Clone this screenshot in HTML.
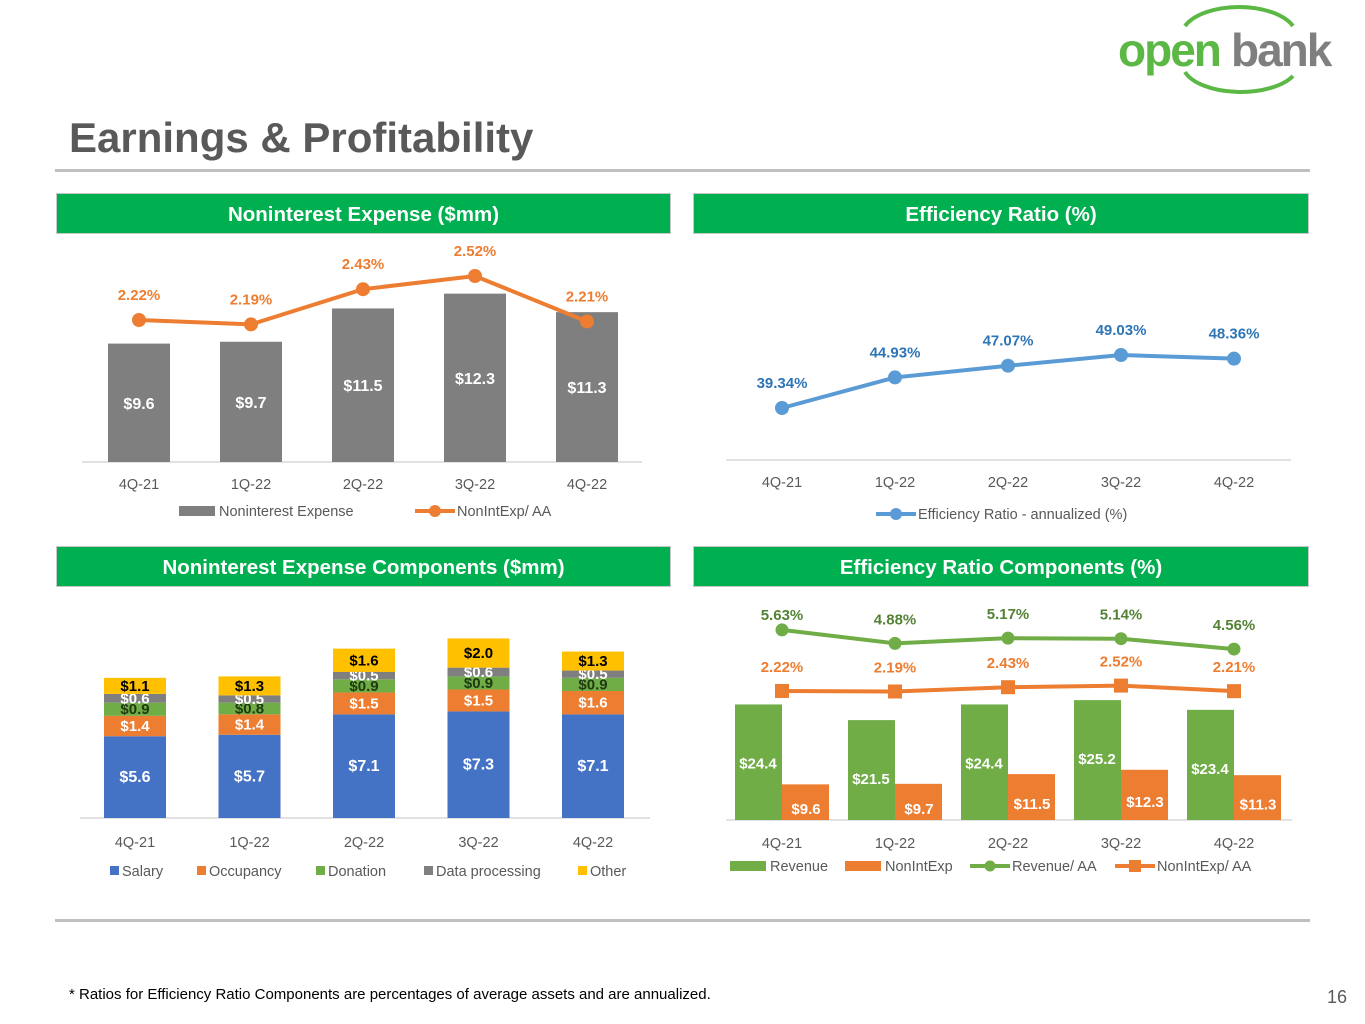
<!DOCTYPE html>
<html><head><meta charset="utf-8">
<style>
body{margin:0;background:#fff;font-family:"Liberation Sans",sans-serif;}
#page{position:relative;width:1365px;height:1024px;overflow:hidden;background:#fff;}
.hdr{position:absolute;height:41px;background:#00b050;border:1px solid #c8c8c8;color:#fff;font-weight:bold;font-size:20.5px;text-align:center;line-height:41px;box-sizing:border-box;}
svg text{font-family:"Liberation Sans",sans-serif;}
</style></head><body>
<div id="page">
<div style="position:absolute;left:1115px;top:4px;width:250px;height:95px;">
<svg width="250" height="95">
<path d="M70 22 A58 30 0 0 1 178 22" fill="none" stroke="#5cb845" stroke-width="4"/>
<path d="M70 68 A58 28 0 0 0 178 72" fill="none" stroke="#5cb845" stroke-width="4"/>
<text x="3" y="62" font-size="46" font-weight="bold" fill="#5cb845" letter-spacing="-2">open</text>
<text x="116" y="62" font-size="46" font-weight="bold" fill="#7f7f7f" letter-spacing="-2">bank</text>
</svg></div>
<div style="position:absolute;left:69px;top:114px;font-size:42px;font-weight:bold;color:#595959;">Earnings &amp; Profitability</div>
<div style="position:absolute;left:55px;top:169px;width:1255px;height:3px;background:#bfbfbf;"></div>
<div class="hdr" style="left:56px;top:193px;width:615px;">Noninterest Expense ($mm)</div>
<div class="hdr" style="left:693px;top:193px;width:616px;">Efficiency Ratio (%)</div>
<div class="hdr" style="left:56px;top:546px;width:615px;">Noninterest Expense Components ($mm)</div>
<div class="hdr" style="left:693px;top:546px;width:616px;">Efficiency Ratio Components (%)</div>
<div style="position:absolute;left:55px;top:919px;width:1255px;height:3px;background:#bfbfbf;"></div>
<div style="position:absolute;left:69px;top:986px;font-size:15px;color:#000;">* Ratios for Efficiency Ratio Components are percentages of average assets and are annualized.</div>
<div style="position:absolute;left:1327px;top:987px;font-size:18px;color:#595959;">16</div>
<svg id="charts" width="1365" height="1024" style="position:absolute;left:0;top:0;"></svg>
</div>
<script>
const categories=["4Q-21","1Q-22","2Q-22","3Q-22","4Q-22"];
const nieValues=[9.6,9.7,11.5,12.3,11.3];
const nieRatio=[2.22,2.19,2.43,2.52,2.21];
const effRatio=[39.34,44.93,47.07,49.03,48.36];
const salary=[5.6,5.7,7.1,7.3,7.1];
const occupancy=[1.4,1.4,1.5,1.5,1.6];
const donation=[0.9,0.8,0.9,0.9,0.9];
const dataProc=[0.6,0.5,0.5,0.6,0.5];
const other=[1.1,1.3,1.6,2.0,1.3];
const revenue=[24.4,21.5,24.4,25.2,23.4];
const revenueRatio=[5.63,4.88,5.17,5.14,4.56];

const S=document.getElementById('charts');
const NS='http://www.w3.org/2000/svg';
function mk(tag,attrs,name,txt){const e=document.createElementNS(NS,tag);for(const k in attrs)e.setAttribute(k,attrs[k]);


if(txt!==undefined)e.textContent=txt;S.appendChild(e);return e;}
function txt(x,y,s,opt,name){return mk('text',Object.assign({x:x,y:y,'text-anchor':'middle','font-size':14.5,fill:'#595959'},opt||{}),name,s);}
function fmt$(v){return '$'+v.toFixed(1);}
function fmtP(v,d){return v.toFixed(d)+'%';}

// Chart 1
const c1x=i=>139+i*112, c1y=v=>462-(v-3.2)*18.5, c1r=v=>320-(v-2.22)*146.7;
mk('line',{x1:82,x2:642,y1:462,y2:462,stroke:'#d9d9d9','stroke-width':1.5},'x-axis-1');
nieValues.forEach((v,i)=>{const t=c1y(v);
mk('rect',{x:c1x(i)-31,y:t,width:62,height:462-t,fill:'#7f7f7f'},'nie-bar-'+i);
txt(c1x(i),(t+462)/2+6,fmt$(v),{fill:'#fff','font-weight':'bold','font-size':16},'nie-bar-label-'+i);
txt(c1x(i),489,categories[i],{},'x-tick-1-'+i);});
mk('polyline',{points:nieRatio.map((v,i)=>c1x(i)+','+c1r(v)).join(' '),fill:'none',stroke:'#ed7d31','stroke-width':4},'nie-ratio-line');
nieRatio.forEach((v,i)=>{mk('circle',{cx:c1x(i),cy:c1r(v),r:7,fill:'#ed7d31'},'nie-ratio-point-'+i);
txt(c1x(i),c1r(v)-20,fmtP(v,2),{fill:'#ed7d31','font-weight':'bold','font-size':15},'nie-ratio-label-'+i);});
mk('rect',{x:179,y:506,width:36,height:10,fill:'#7f7f7f'},'legend-nie-swatch');
txt(219,516,'Noninterest Expense',{'text-anchor':'start'},'legend-nie');
mk('line',{x1:415,x2:455,y1:511,y2:511,stroke:'#ed7d31','stroke-width':4},'legend-ratio-line');
mk('circle',{cx:435,cy:511,r:6,fill:'#ed7d31'},'legend-ratio-marker');
txt(457,516,'NonIntExp/ AA',{'text-anchor':'start'},'legend-ratio');

// Chart 2
const c2x=i=>782+i*113, c2y=v=>408-(v-39.34)*5.47;
mk('line',{x1:726,x2:1291,y1:460,y2:460,stroke:'#d9d9d9','stroke-width':1.5},'x-axis-2');
categories.forEach((c,i)=>txt(c2x(i),487,c,{},'x-tick-2-'+i));
mk('polyline',{points:effRatio.map((v,i)=>c2x(i)+','+c2y(v)).join(' '),fill:'none',stroke:'#5b9bd5','stroke-width':4},'efficiency-line');
effRatio.forEach((v,i)=>{mk('circle',{cx:c2x(i),cy:c2y(v),r:7,fill:'#5b9bd5'},'efficiency-point-'+i);
txt(c2x(i),c2y(v)-20,fmtP(v,2),{fill:'#2e75b6','font-weight':'bold','font-size':15},'efficiency-label-'+i);});
mk('line',{x1:876,x2:916,y1:514,y2:514,stroke:'#5b9bd5','stroke-width':4},'legend-eff-line');
mk('circle',{cx:896,cy:514,r:6,fill:'#5b9bd5'},'legend-eff-marker');
txt(918,519,'Efficiency Ratio - annualized (%)',{'text-anchor':'start'},'legend-eff');

// Chart 3
const c3x=i=>135+i*114.5, k3=14.6, base3=818;
mk('line',{x1:80,x2:650,y1:base3,y2:base3,stroke:'#d9d9d9','stroke-width':1.5},'x-axis-3');
const series3=[[salary,'#4472c4','#fff','salary'],[occupancy,'#ed7d31','#fff','occupancy'],[donation,'#70ad47','#1f3a10','donation'],[dataProc,'#7f7f7f','#fff','data-processing'],[other,'#ffc000','#000','other']];
categories.forEach((c,i)=>{let y=base3;
series3.forEach(([arr,col,tc,nm])=>{const h=arr[i]*k3;y-=h;
mk('rect',{x:c3x(i)-31,y:y,width:62,height:h,fill:col},nm+'-bar-'+i);
txt(c3x(i),y+h/2+5,fmt$(arr[i]),{fill:tc,'font-weight':'bold','font-size':nm==='salary'?16:15},nm+'-label-'+i);});
txt(c3x(i),847,c,{},'x-tick-3-'+i);});
const leg3=[['Salary','#4472c4',110],['Occupancy','#ed7d31',197],['Donation','#70ad47',316],['Data processing','#7f7f7f',424],['Other','#ffc000',578]];
leg3.forEach(([t,col,x])=>{mk('rect',{x:x,y:866,width:9,height:9,fill:col},'legend-swatch-'+t.toLowerCase().replace(' ','-'));
txt(x+12,876,t,{'text-anchor':'start'},'legend-'+t.toLowerCase().replace(' ','-'));});

// Chart 4
const c4x=i=>782+i*113, c4y=v=>820-(v-3)*5.4, c4r=v=>730.7-v*17.9;
mk('line',{x1:726,x2:1292,y1:820,y2:820,stroke:'#d9d9d9','stroke-width':1.5},'x-axis-4');
categories.forEach((c,i)=>{
let t=c4y(revenue[i]);
mk('rect',{x:c4x(i)-47,y:t,width:47,height:820-t,fill:'#70ad47'},'revenue-bar-'+i);
txt(c4x(i)-24,t+64,fmt$(revenue[i]),{fill:'#fff','font-weight':'bold','font-size':15},'revenue-label-'+i);
t=c4y(nieValues[i]);
mk('rect',{x:c4x(i),y:t,width:47,height:820-t,fill:'#ed7d31'},'nonintexp-bar-'+i);
txt(c4x(i)+24,(820+t)/2+12,fmt$(nieValues[i]),{fill:'#fff','font-weight':'bold','font-size':15},'nonintexp-label-'+i);
txt(c4x(i),848,c,{},'x-tick-4-'+i);});
mk('polyline',{points:revenueRatio.map((v,i)=>c4x(i)+','+c4r(v)).join(' '),fill:'none',stroke:'#70ad47','stroke-width':4},'revenue-ratio-line');
mk('polyline',{points:nieRatio.map((v,i)=>c4x(i)+','+c4r(v)).join(' '),fill:'none',stroke:'#ed7d31','stroke-width':4},'nonintexp-ratio-line');
revenueRatio.forEach((v,i)=>{mk('circle',{cx:c4x(i),cy:c4r(v),r:6.5,fill:'#70ad47'},'revenue-ratio-point-'+i);
txt(c4x(i),c4r(v)-(i===0?10:19),fmtP(v,2),{fill:'#548235','font-weight':'bold','font-size':15},'revenue-ratio-label-'+i);});
nieRatio.forEach((v,i)=>{mk('rect',{x:c4x(i)-7,y:c4r(v)-7,width:14,height:14,fill:'#ed7d31'},'nonintexp-ratio-point-'+i);
txt(c4x(i),c4r(v)-19,fmtP(v,2),{fill:'#ed7d31','font-weight':'bold','font-size':15},'nonintexp-ratio-label-'+i);});
mk('rect',{x:730,y:861,width:36,height:10,fill:'#70ad47'},'legend-revenue-swatch');
txt(770,871,'Revenue',{'text-anchor':'start'},'legend-revenue');
mk('rect',{x:845,y:861,width:36,height:10,fill:'#ed7d31'},'legend-nonintexp-swatch');
txt(885,871,'NonIntExp',{'text-anchor':'start'},'legend-nonintexp');
mk('line',{x1:970,x2:1010,y1:866,y2:866,stroke:'#70ad47','stroke-width':4},'legend-revenue-ratio-line');
mk('circle',{cx:990,cy:866,r:5.5,fill:'#70ad47'},'legend-revenue-ratio-marker');
txt(1012,871,'Revenue/ AA',{'text-anchor':'start'},'legend-revenue-ratio');
mk('line',{x1:1115,x2:1155,y1:866,y2:866,stroke:'#ed7d31','stroke-width':4},'legend-nonintexp-ratio-line');
mk('rect',{x:1129,y:860,width:12,height:12,fill:'#ed7d31'},'legend-nonintexp-ratio-marker');
txt(1157,871,'NonIntExp/ AA',{'text-anchor':'start'},'legend-nonintexp-ratio');
</script>
</body></html>
